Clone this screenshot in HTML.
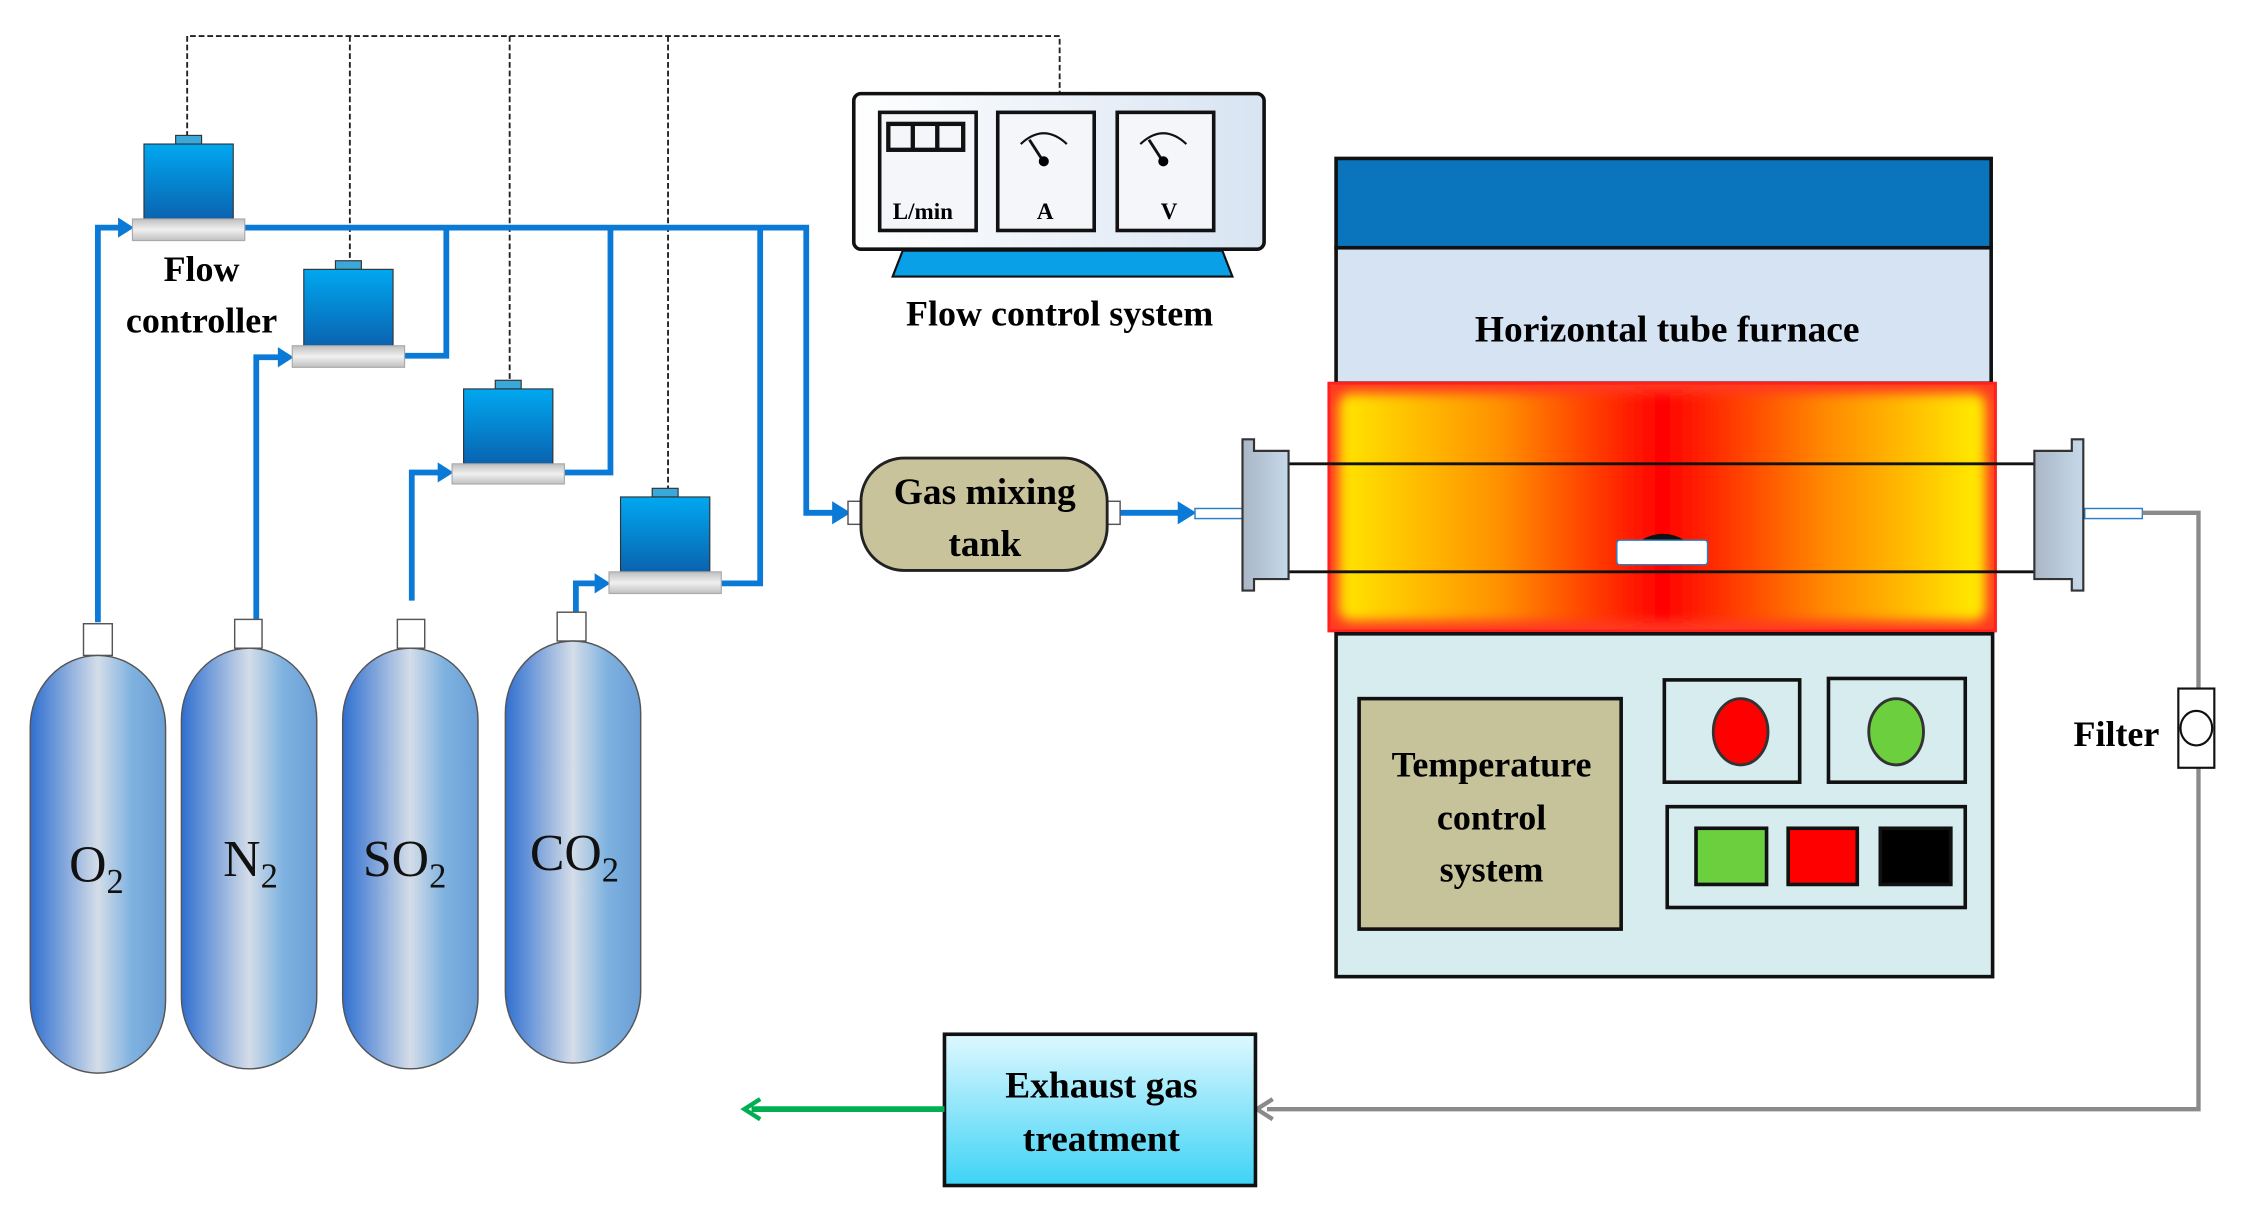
<!DOCTYPE html>
<html><head><meta charset="utf-8"><style>html,body{margin:0;padding:0;background:#fff}svg{display:block}</style></head><body>
<svg width="2246" height="1210" viewBox="0 0 1560 840" preserveAspectRatio="none" xmlns="http://www.w3.org/2000/svg" font-family="Liberation Serif, serif" font-weight="bold">
<defs>
<linearGradient id="cyl" x1="0" x2="1" y1="0" y2="0"><stop offset="0" stop-color="#2f6fd0"/><stop offset="0.5" stop-color="#d4dde8"/><stop offset="0.75" stop-color="#7fb2e0"/><stop offset="1" stop-color="#6a9fd6"/></linearGradient>
<linearGradient id="fc" x1="0" x2="0" y1="0" y2="1"><stop offset="0" stop-color="#00a8f0"/><stop offset="1" stop-color="#0a63b0"/></linearGradient>
<linearGradient id="base" x1="0" x2="0" y1="0" y2="1"><stop offset="0" stop-color="#bfbfbf"/><stop offset="0.5" stop-color="#f0f0f0"/><stop offset="1" stop-color="#c0c0c0"/></linearGradient>
<linearGradient id="mon" x1="0" x2="1" y1="0" y2="0"><stop offset="0" stop-color="#ffffff"/><stop offset="1" stop-color="#d8e4f2"/></linearGradient>
<linearGradient id="heat" x1="0" x2="1" y1="0" y2="0"><stop offset="0" stop-color="#ffe600"/><stop offset="0.25" stop-color="#ff9000"/><stop offset="0.5" stop-color="#ff0000"/><stop offset="0.75" stop-color="#ff8800"/><stop offset="1" stop-color="#ffee00"/></linearGradient>
<linearGradient id="exh" x1="0" x2="0" y1="0" y2="1"><stop offset="0" stop-color="#dff8ff"/><stop offset="1" stop-color="#3dd3f5"/></linearGradient>
<linearGradient id="fl" x1="0" x2="1" y1="0" y2="0"><stop offset="0" stop-color="#a9b6c6"/><stop offset="1" stop-color="#c6d9ea"/></linearGradient>
<filter id="bl"><feGaussianBlur stdDeviation="4"/></filter>
</defs>
<g stroke="#222" stroke-width="1.3" stroke-dasharray="4,2" fill="none">
<path d="M130 95V25H736V65"/><path d="M243 25V185"/><path d="M354 25V265"/><path d="M464 25V340"/>
</g>
<g stroke="#0a7ad6" stroke-width="4" fill="none">
<path d="M170 158H560V356H580"/><path d="M281 247H310V158"/><path d="M392 328H424V158"/><path d="M501 405H528V158"/>
<path d="M68 432V158H84"/><path d="M178 430V248H195"/><path d="M286 417V328H306"/><path d="M400 425V405H415"/>
<path d="M778 356H820"/>
</g>
<g fill="#0a7ad6">
<path d="M82 151L93 158L82 165Z"/><path d="M193 241L204 248L193 255Z"/><path d="M304 321L315 328L304 335Z"/><path d="M413 398L424 405L413 412Z"/><path d="M578 348L591 356L578 364Z"/><path d="M818 348L831 356L818 364Z"/>
</g>
<g stroke="#333" stroke-width="0.8">
<rect x="122" y="94" width="18" height="6" fill="#3aa8d8"/><rect x="100" y="100" width="62" height="52" fill="url(#fc)"/><rect x="92" y="152" width="78" height="15" fill="url(#base)" stroke="#aaa"/>
<rect x="233" y="181" width="18" height="6" fill="#3aa8d8"/><rect x="211" y="187" width="62" height="53" fill="url(#fc)"/><rect x="203" y="240" width="78" height="15" fill="url(#base)" stroke="#aaa"/>
<rect x="344" y="264" width="18" height="6" fill="#3aa8d8"/><rect x="322" y="270" width="62" height="52" fill="url(#fc)"/><rect x="314" y="322" width="78" height="14" fill="url(#base)" stroke="#aaa"/>
<rect x="453" y="339" width="18" height="6" fill="#3aa8d8"/><rect x="431" y="345" width="62" height="52" fill="url(#fc)"/><rect x="423" y="397" width="78" height="15" fill="url(#base)" stroke="#aaa"/>
</g>
<text x="140" y="195" font-size="25" text-anchor="middle">Flow</text>
<text x="140" y="231" font-size="25" text-anchor="middle">controller</text>
<g stroke="#555" stroke-width="1">
<rect x="58" y="433" width="20" height="22" fill="#fff"/><rect x="21" y="455" width="94" height="290" rx="47" ry="50" fill="url(#cyl)"/>
<rect x="163" y="430" width="19" height="20" fill="#fff"/><rect x="126" y="450" width="94" height="292" rx="47" ry="50" fill="url(#cyl)"/>
<rect x="276" y="430" width="19" height="20" fill="#fff"/><rect x="238" y="450" width="94" height="292" rx="47" ry="50" fill="url(#cyl)"/>
<rect x="387" y="425" width="20" height="20" fill="#fff"/><rect x="351" y="445" width="94" height="293" rx="47" ry="50" fill="url(#cyl)"/>
</g>
<g font-weight="normal" font-size="36" fill="#111">
<text x="48" y="612">O<tspan font-size="24" dy="8">2</tspan></text>
<text x="155" y="608">N<tspan font-size="24" dy="8">2</tspan></text>
<text x="252" y="608">SO<tspan font-size="24" dy="8">2</tspan></text>
<text x="368" y="604">CO<tspan font-size="24" dy="8">2</tspan></text>
</g>
<rect x="593" y="65" width="285" height="108" rx="5" fill="url(#mon)" stroke="#111" stroke-width="2.5"/>
<path d="M627 174H849L856 192H620Z" fill="#0aa0e8" stroke="#111" stroke-width="1.5"/>
<g fill="#f4f6fa" stroke="#111" stroke-width="2.5">
<rect x="611" y="78" width="67" height="82"/><rect x="693" y="78" width="67" height="82"/><rect x="776" y="78" width="67" height="82"/>
</g>
<g fill="none" stroke="#111" stroke-width="3"><rect x="617" y="86" width="52" height="18"/><path d="M634 86V104M651 86V104"/></g>
<g fill="none" stroke="#111" stroke-width="1.5"><path d="M709 100Q725 85 741 100"/><path d="M792 100Q808 85 824 100"/></g>
<g stroke="#111" stroke-width="2"><path d="M715 97L724 111"/><path d="M798 97L807 111"/></g>
<circle cx="725" cy="112" r="3.5"/><circle cx="808" cy="112" r="3.5"/>
<text x="641" y="152" font-size="16" text-anchor="middle">L/min</text>
<text x="726" y="152" font-size="16" text-anchor="middle">A</text>
<text x="812" y="152" font-size="16" text-anchor="middle">V</text>
<text x="736" y="226" font-size="25" text-anchor="middle">Flow control system</text>
<rect x="589" y="348" width="10" height="16" fill="#fff" stroke="#555"/><rect x="768" y="348" width="10" height="16" fill="#fff" stroke="#555"/>
<rect x="598" y="318" width="171" height="78" rx="30" ry="30" fill="#c8c39a" stroke="#222" stroke-width="2"/>
<text x="684" y="350" font-size="26" text-anchor="middle">Gas mixing</text>
<text x="684" y="386" font-size="26" text-anchor="middle">tank</text>
<rect x="928" y="110" width="455" height="62" fill="#0a75bc" stroke="#111" stroke-width="2.5"/>
<rect x="928" y="172" width="455" height="94" fill="#d5e3f3" stroke="#111" stroke-width="2.5"/>
<text x="1158" y="237" font-size="26" text-anchor="middle">Horizontal tube furnace</text>
<rect x="923" y="266" width="463" height="172" fill="#ff3a20"/>
<rect x="930" y="273" width="449" height="158" rx="8" fill="url(#heat)" filter="url(#bl)"/>
<rect x="923" y="266" width="463" height="172" fill="none" stroke="#ff2020" stroke-width="2"/>
<rect x="830" y="353" width="33" height="7" fill="#fff" stroke="#2a7fc8"/>
<rect x="1448" y="353" width="40" height="7" fill="#fff" stroke="#2a7fc8"/>
<g stroke="#111" stroke-width="2"><path d="M895 322H1413M895 397H1413"/></g>
<path d="M1140 375Q1155 366 1170 375Z" fill="#111"/>
<rect x="1123" y="375" width="63" height="17" rx="2" fill="#fff" stroke="#2a7fc8"/>
<path d="M863 305H871V313H895V402H871V410H863Z" fill="url(#fl)" stroke="#333" stroke-width="1.5"/>
<path d="M1447 305H1439V313H1413V402H1439V410H1447Z" fill="url(#fl)" stroke="#333" stroke-width="1.5"/>
<rect x="928" y="440" width="456" height="238" fill="#d6ecef" stroke="#111" stroke-width="2.5"/>
<rect x="944" y="485" width="182" height="160" fill="#c6c39a" stroke="#111" stroke-width="2.5"/>
<text x="1036" y="539" font-size="25" text-anchor="middle">Temperature</text>
<text x="1036" y="576" font-size="25" text-anchor="middle">control</text>
<text x="1036" y="612" font-size="25" text-anchor="middle">system</text>
<g fill="none" stroke="#111" stroke-width="2.5"><rect x="1156" y="472" width="94" height="71"/><rect x="1270" y="471" width="95" height="72"/><rect x="1158" y="560" width="207" height="70"/></g>
<ellipse cx="1209" cy="508" rx="19" ry="23" fill="#f00" stroke="#333" stroke-width="2"/>
<ellipse cx="1317" cy="508" rx="19" ry="23" fill="#6ccf3e" stroke="#333" stroke-width="2"/>
<rect x="1178" y="575" width="49" height="39" fill="#6ccf3e" stroke="#111" stroke-width="2.5"/>
<rect x="1242" y="575" width="48" height="39" fill="#f00" stroke="#111" stroke-width="2.5"/>
<rect x="1306" y="575" width="49" height="39" fill="#000" stroke="#111" stroke-width="2.5"/>
<path d="M1488 356H1527V770H880" fill="none" stroke="#8a8a8a" stroke-width="3"/>
<path d="M884 763L873 770L884 777" fill="none" stroke="#8a8a8a" stroke-width="3"/>
<rect x="1513" y="478" width="25" height="55" fill="#fff" stroke="#111" stroke-width="1.5"/>
<ellipse cx="1525.5" cy="505.5" rx="11" ry="12" fill="#fff" stroke="#111" stroke-width="1.5"/>
<text x="1470" y="518" font-size="25" text-anchor="middle">Filter</text>
<rect x="656" y="718" width="216" height="105" fill="url(#exh)" stroke="#111" stroke-width="2.5"/>
<text x="765" y="762" font-size="26" text-anchor="middle">Exhaust gas</text>
<text x="765" y="799" font-size="26" text-anchor="middle">treatment</text>
<path d="M656 770H522" stroke="#00b050" stroke-width="4"/>
<path d="M528 763L517 770L528 777" fill="none" stroke="#00b050" stroke-width="3"/>
</svg>
</body></html>
